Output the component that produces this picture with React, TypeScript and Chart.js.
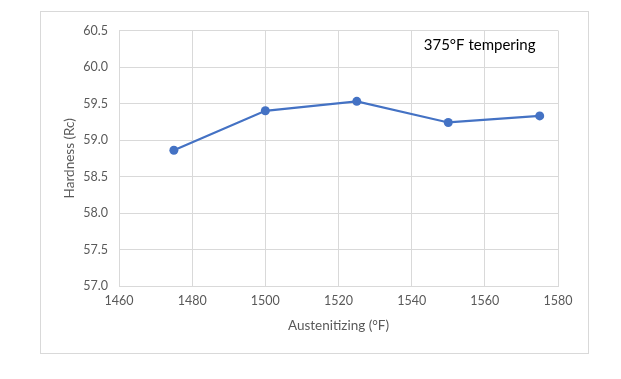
import React, { useEffect, useRef } from "react";
import { Chart, registerables } from "chart.js";

Chart.register(...registerables);

const austenitizing = [1475, 1500, 1525, 1550, 1575];
const hardness = [58.86, 59.4, 59.53, 59.24, 59.33];
const annotationText = "375°F tempering";
const xTitle = "Austenitizing (°F)";
const yTitle = "Hardness (Rc)";

const FONT = "Lato, 'Open Sans', sans-serif";
const GRID = "#d9d9d9";
const TEXT = "#595959";

const annotationPlugin = {
  id: "annot",
  afterDraw(chart: any) {
    const { ctx, scales } = chart;
    const x = scales.x.getPixelForValue(1543.3);
    const y = scales.y.getPixelForValue(60.3);
    ctx.save();
    ctx.font = `15px ${FONT}`;
    ctx.fillStyle = "#000000";
    ctx.textAlign = "left";
    ctx.textBaseline = "middle";
    ctx.fillText(annotationText, x, y);
    ctx.restore();
  },
};

export default function App() {
  const ref = useRef<HTMLCanvasElement>(null);
  useEffect(() => {
    if (!ref.current) return;
    const chart = new Chart(ref.current, {
      type: "line",
      data: {
        datasets: [
          {
            data: austenitizing.map((x, i) => ({ x, y: hardness[i] })),
            borderColor: "#4472C4",
            backgroundColor: "#4472C4",
            borderWidth: 2.25,
            pointRadius: 4.5,
            pointHoverRadius: 4.5,
            pointBorderWidth: 0,
            tension: 0,
          },
        ],
      },
      options: {
        animation: false,
        responsive: false,
        maintainAspectRatio: false,
        layout: { padding: { top: 16, right: 30, left: 0, bottom: 0 } },
        plugins: { legend: { display: false }, tooltip: { enabled: false } },
        scales: {
          x: {
            type: "linear",
            min: 1460,
            max: 1580,
            ticks: {
              stepSize: 20,
              color: TEXT,
              font: { family: FONT, size: 12.5 },
              padding: 7,
              callback: (v: any) => String(v),
            },
            grid: { color: GRID, drawTicks: false, lineWidth: 1 },
            border: { color: GRID },
            title: { display: true, text: xTitle, color: TEXT, font: { family: FONT, size: 13.5 }, padding: { top: 0, bottom: 19 } },
            afterFit(scale: any) {
              scale.height = 67;
            },
          },
          y: {
            type: "linear",
            min: 57,
            max: 60.5,
            ticks: {
              stepSize: 0.5,
              color: TEXT,
              font: { family: FONT, size: 12.5 },
              padding: 11,
              callback: (v: any) => Number(v).toFixed(1),
            },
            grid: { color: GRID, drawTicks: false, lineWidth: 1 },
            border: { color: GRID },
            title: { display: true, text: yTitle, color: TEXT, font: { family: FONT, size: 13.5 }, padding: { top: 21, bottom: 0 } },
            afterFit(scale: any) {
              scale.width = 78;
            },
          },
        },
      },
      plugins: [annotationPlugin],
    });
    return () => chart.destroy();
  }, []);
  return (
    <div
      style={{
        position: "absolute",
        left: 40,
        top: 11,
        width: 549,
        height: 343,
        border: "1px solid #d9d9d9",
        boxSizing: "border-box",
        background: "#fff",
      }}
    >
      <canvas ref={ref} width={547} height={341} style={{ display: "block" }} />
    </div>
  );
}
